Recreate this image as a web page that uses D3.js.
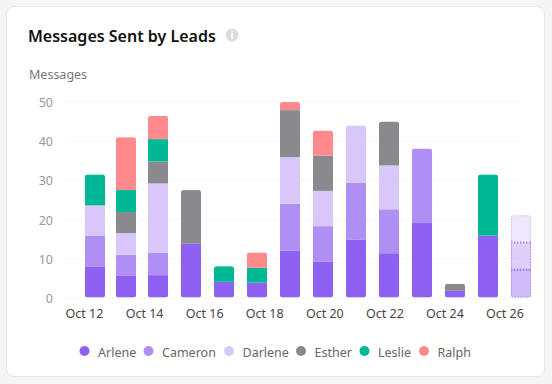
<!DOCTYPE html>
<html>
<head>
<meta charset="utf-8">
<script src="https://cdn.jsdelivr.net/npm/d3@7"></script>
<style>
  html, body { margin: 0; padding: 0; background: #f5f5f5; }
  svg { display: block; font-family: "Noto Sans", sans-serif; }
</style>
</head>
<body>
<script>
var names = ["Arlene", "Cameron", "Darlene", "Esther", "Leslie", "Ralph"];
var colors = ["#8f61f2", "#b08ff5", "#d8c8f9", "#8a8a8e", "#00b894", "#ff8a8e"];
var xLabels = ["Oct 12", "Oct 14", "Oct 16", "Oct 18", "Oct 20", "Oct 22", "Oct 24", "Oct 26"];
var yTicks = [0, 10, 20, 30, 40, 50];
var bars = [0, 1, 2, 3, 4, 5, 6, 7, 8, 9, 10, 11, 12, 13];

var arlene  = [7.8, 5.5, 5.7, 13.7, 4, 3.8, 11.9, 9.1, 14.7, 11.3, 19, 1.7, 15.8, 7.1];
var cameron = [7.9, 5.4, 5.7, 0, 0, 0, 12, 9.1, 14.6, 11.2, 19, 0, 0, 6.9];
var darlene = [7.8, 5.5, 17.7, 0, 0, 0, 11.9, 9, 14.6, 11.2, 0, 0, 0, 7];
var esther  = [0, 5.4, 5.6, 13.7, 0, 0, 12, 9, 0, 11.2, 0, 1.8, 0, 0];
var leslie  = [7.9, 5.6, 5.7, 0, 4, 3.8, 0, 0, 0, 0, 0, 0, 15.6, 0];
var ralph   = [0, 13.5, 5.9, 0, 0, 3.9, 2.1, 6.4, 0, 0, 0, 0, 0, 0];
var series = [arlene, cameron, darlene, esther, leslie, ralph];
var lastBar = 13; // the pale dotted one

var width = 552, height = 384;
var barWidth = 20;

var svg = d3.select("body").append("svg")
  .attr("width", width)
  .attr("height", height);

// card
svg.append("rect")
  .attr("x", 6.5).attr("y", 6.5)
  .attr("width", 538).attr("height", 370)
  .attr("rx", 8)
  .attr("fill", "#fff")
  .attr("stroke", "#e9e9e9");

svg.append("text")
  .attr("x", 28).attr("y", 42)
  .attr("font-size", 16).attr("font-weight", 600)
  .attr("fill", "#111")
  .text("Messages Sent by Leads");

svg.append("circle")
  .attr("cx", 232).attr("cy", 35).attr("r", 6.5)
  .attr("fill", "#dcdcdc");
svg.append("text")
  .attr("x", 232).attr("y", 39)
  .attr("text-anchor", "middle")
  .attr("font-size", 10).attr("font-weight", 700)
  .attr("fill", "#fff")
  .text("i");

svg.append("text")
  .attr("x", 29).attr("y", 79)
  .attr("font-size", 12.5)
  .attr("fill", "#777")
  .text("Messages");

var yScale = d3.scaleLinear()
  .domain([0, 50])
  .range([297.5, 101.5]);

// bars are not evenly placed at the left end of the reference
var xBar = d3.scaleLinear()
  .domain([0, 1, 2, 3, 13])
  .range([95, 126, 158, 191, 521]);

var xAxisScale = d3.scalePoint()
  .domain(xLabels)
  .range([84, 504.5]);

var yAxis = svg.append("g")
  .attr("transform", "translate(65,0)")
  .call(d3.axisLeft(yScale).tickValues(yTicks).tickSize(-457).tickPadding(12));
yAxis.select(".domain").remove();
yAxis.selectAll("line").attr("stroke", "#f6f6f6");
yAxis.selectAll("text")
  .attr("y", 1)
  .attr("font-family", "'Noto Sans', sans-serif")
  .attr("font-size", 12.5)
  .attr("fill", "#999");

var xAxis = svg.append("g")
  .attr("transform", "translate(0,298)")
  .call(d3.axisBottom(xAxisScale).tickSize(0).tickPadding(11.5));
xAxis.select(".domain").remove();
xAxis.selectAll("text")
  .attr("font-family", "'Noto Sans', sans-serif")
  .attr("font-size", 12.5)
  .attr("fill", "#444");

var stack = d3.stack()
  .keys(d3.range(names.length))
  .value(function(d, k) { return series[k][d]; });
var layers = stack(bars);

function barTop(i) {
  return yScale(d3.sum(series, function(s) { return s[i]; }));
}

// rounded corners go on the whole stack, not on each segment
var defs = svg.append("defs");
defs.selectAll("clipPath")
  .data(bars)
  .join("clipPath")
  .attr("id", function(d) { return "bar" + d; })
  .append("rect")
  .attr("x", function(d) { return xBar(d) - barWidth / 2; })
  .attr("y", barTop)
  .attr("width", barWidth)
  .attr("height", function(d) { return yScale(0) - barTop(d); })
  .attr("rx", 2.5);

var groups = svg.selectAll(".bar")
  .data(bars)
  .join("g")
  .attr("class", "bar")
  .attr("clip-path", function(d) { return "url(#bar" + d + ")"; });

groups.each(function(b) {
  var segs = layers.filter(function(l) { return series[l.key][b] > 0; });
  var g = d3.select(this);
  g.selectAll("rect")
    .data(segs)
    .join("rect")
    .attr("x", xBar(b) - barWidth / 2)
    .attr("y", function(l) { return yScale(l[b][1]); })
    .attr("width", barWidth)
    .attr("height", function(l) { return yScale(l[b][0]) - yScale(l[b][1]); })
    .attr("fill", function(l) { return colors[l.key]; })
    .attr("fill-opacity", b == lastBar ? 0.42 : 1)
    .attr("stroke", b == lastBar ? "#a684f3" : "none")
    .attr("stroke-opacity", function(l) { return l.key == 2 ? 0.4 : 0.9; })
    .attr("stroke-width", b == lastBar ? 2 : 0)
    .attr("stroke-dasharray", "1.5,1.5");
});

// legend
var legendX = [84.5, 148.5, 229, 301, 364.5, 424];
var legend = svg.selectAll(".legend")
  .data(names)
  .join("g")
  .attr("class", "legend")
  .attr("transform", function(d, i) { return "translate(" + legendX[i] + ",351)"; });
legend.append("circle")
  .attr("r", 5)
  .attr("fill", function(d, i) { return colors[i]; });
legend.append("text")
  .attr("x", 13.5)
  .attr("y", 5.5)
  .attr("font-size", 12.5)
  .attr("fill", "#666")
  .text(function(d) { return d; });
</script>
</body>
</html>
